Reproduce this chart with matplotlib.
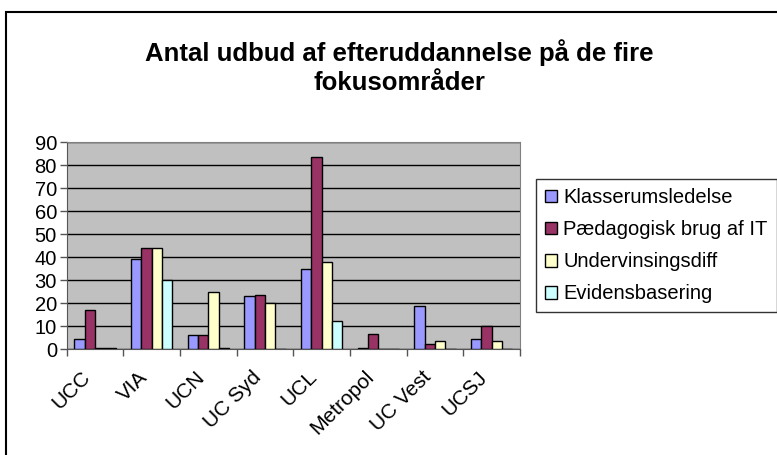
import numpy as np
import matplotlib
matplotlib.use("Agg")
import matplotlib.pyplot as plt
import matplotlib.transforms as mtransforms
from matplotlib.patches import Rectangle

plt.rcParams['font.family'] = ['Liberation Sans', 'DejaVu Sans']

categories = ['UCC', 'VIA', 'UCN', 'UC Syd', 'UCL', 'Metropol', 'UC Vest', 'UCSJ']
series_names = ['Klasserumsledelse', 'Pædagogisk brug af IT', 'Undervinsingsdiff', 'Evidensbasering']
klasserum = [4.5, 39, 6, 23, 35, 0.4, 19, 4.5]
paedagogisk = [17, 44, 6, 23.5, 83.5, 6.5, 2.5, 10]
undervisning = [0.4, 44, 25, 20, 38, 0, 3.7, 3.7]
evidens = [0.4, 30, 0.4, 0, 12.5, 0, 0, 0]
colors = ['#9999FF', '#993366', '#FFFFCC', '#CCFFFF']

fig = plt.figure(figsize=(7.77, 4.55), dpi=100)
fig.patch.set_facecolor('white')

# outer chart border
fig.add_artist(Rectangle((6 / 777, -0.01), 1.0, (455 - 12) / 455 + 0.01,
                         transform=fig.transFigure, fill=False,
                         edgecolor='black', linewidth=1.5))

ax = fig.add_axes([66.7 / 777, (455 - 349.3) / 455, 453.3 / 777, 207.3 / 455])
ax.set_facecolor('#C0C0C0')

x = np.arange(len(categories))
w = 1 / 5.5
data = [klasserum, paedagogisk, undervisning, evidens]
for i, (vals, name, c) in enumerate(zip(data, series_names, colors)):
    ax.bar(x - 0.5 + 0.75 * w + (i + 0.5) * w, vals, width=w, color=c,
           edgecolor='black', linewidth=1.0, label=name, zorder=3)

ax.set_xlim(-0.5, len(categories) - 0.5)
ax.set_ylim(0, 90)
ax.set_yticks(range(0, 91, 10))
ax.yaxis.grid(True, color='black', linewidth=1.0, zorder=0)
ax.set_axisbelow(True)

ax.set_xticks(np.arange(-0.5, len(categories), 1.0))
ax.set_xticklabels([])
ax.set_xticks(x, minor=True)
ax.set_xticklabels(categories, minor=True, rotation=45, ha='right',
                   rotation_mode='anchor', fontsize=15)
ax.tick_params(axis='x', which='minor', length=0, pad=13)
ax.tick_params(axis='x', which='major', length=5, width=1, direction='out', color='#555555')
ax.tick_params(axis='y', length=5, width=1, direction='out', color='#555555', labelsize=14.5, pad=2)

shift = mtransforms.ScaledTranslation(-14 / 100, 0, fig.dpi_scale_trans)
for lab in ax.get_xticklabels(minor=True):
    lab.set_transform(lab.get_transform() + shift)

for s in ['top', 'right']:
    ax.spines[s].set_color('#808080')
for s in ['left', 'bottom']:
    ax.spines[s].set_color('#555555')

fig.text(0.514, (455 - 67) / 455, 'Antal udbud af efteruddannelse på de fire\nfokusområder',
         ha='center', va='center', fontsize=18.5, fontweight='bold', linespacing=1.3)

leg = fig.legend(loc='upper left', bbox_to_anchor=(536 / 777, (455 - 179) / 455),
                 fontsize=14.5, frameon=True, fancybox=False, edgecolor='black',
                 handlelength=0.6, handleheight=0.6, handletextpad=0.3,
                 labelspacing=0.65, borderpad=0.45, borderaxespad=0)
leg.get_frame().set_linewidth(1.0)

fig.savefig('out.png', dpi=100)
